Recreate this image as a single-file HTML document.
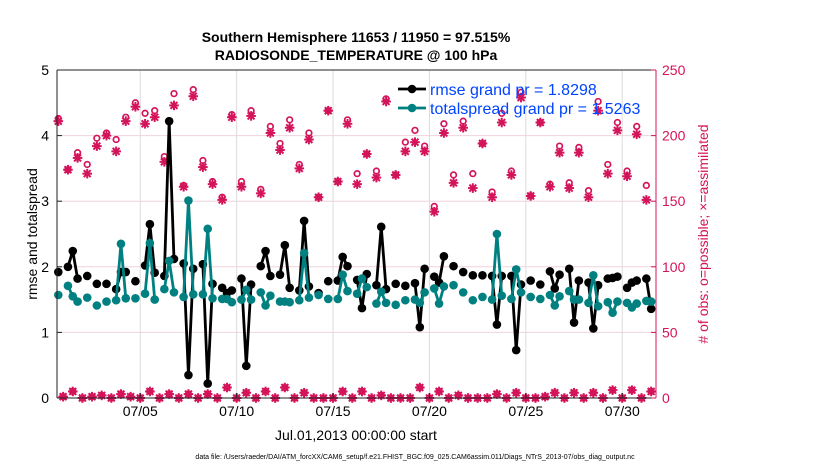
<!DOCTYPE html>
<html><head><meta charset="utf-8"><style>
html,body{margin:0;padding:0;background:#fff;}
svg{display:block;font-family:"Liberation Sans",Arial,sans-serif;}
</style></head><body>
<svg id="chart" width="830" height="470" viewBox="0 0 830 470" xmlns="http://www.w3.org/2000/svg">
<rect width="830" height="470" fill="#fff"/>
<g id="grid"></g>
<g id="marks"></g>
<g id="axes"></g>
<text x="356" y="42" text-anchor="middle" font-size="14" font-weight="bold">Southern Hemisphere 11653 / 11950 = 97.515%</text>
<text x="356" y="60" text-anchor="middle" font-size="14" font-weight="bold">RADIOSONDE_TEMPERATURE @ 100 hPa</text>
<text transform="translate(37,234) rotate(-90)" text-anchor="middle" font-size="14">rmse and totalspread</text>
<text transform="translate(708,234) rotate(-90)" text-anchor="middle" font-size="14" fill="#d4145a"># of obs: o=possible; ×=assimilated</text>
<text x="356" y="440" text-anchor="middle" font-size="14">Jul.01,2013 00:00:00 start</text>
<text x="415" y="459" text-anchor="middle" font-size="7">data file: /Users/raeder/DAI/ATM_forcXX/CAM6_setup/f.e21.FHIST_BGC.f09_025.CAM6assim.011/Diags_NTrS_2013-07/obs_diag_output.nc</text>
<g id="legend"></g>
</svg>
<script>
// slot k = 6-hourly index, day = (k-1)/4 since 07/01 00Z
const rmseSlots = [0,2,3,4,6,8,10,12,13,14,16,18,19,20,22,23,24,26,27,28,30,31,32,34,35,36,38,39,40,42,43,44,46,47,48,50,51,52,54,56,58,59,60,62,63,64,66,67,68,70,72,74,75,76,78,79,80,82,84,86,88,90,91,92,94,95,96,98,100,102,103,104,106,107,108,110,111,112,114,115,116,118,119,120,122,123];
const rmseValues = [1.92,2.00,2.24,1.82,1.86,1.74,1.74,1.66,1.92,1.92,1.78,2.02,2.65,1.91,1.86,4.22,2.12,2.05,0.35,1.97,2.04,0.22,1.74,1.68,1.60,1.64,1.82,0.49,1.73,2.01,2.24,1.86,1.88,2.33,1.68,1.64,2.70,1.70,1.60,1.78,1.79,2.15,2.01,1.80,1.37,1.89,1.72,2.61,1.66,1.74,1.71,1.75,1.08,1.97,1.85,1.76,2.16,2.01,1.92,1.87,1.87,1.86,1.12,1.86,1.86,0.73,1.73,1.79,1.73,1.93,1.67,1.88,1.97,1.15,1.79,1.76,1.06,1.72,1.82,1.83,1.85,1.68,1.76,1.79,1.82,1.36];
const spreadSlots = [0,2,3,4,6,8,10,12,13,14,16,18,19,20,22,23,24,26,27,28,30,31,32,34,35,36,38,39,40,42,43,44,46,47,48,50,51,52,54,56,58,59,60,62,63,64,66,67,68,70,72,74,75,76,78,79,80,82,84,86,88,90,91,92,94,95,96,98,100,102,103,104,106,107,108,110,111,112,114,115,116,118,119,120,122,123];
const spreadValues = [1.57,1.71,1.55,1.47,1.53,1.41,1.47,1.49,2.35,1.52,1.52,1.59,2.36,1.50,1.66,2.09,1.61,1.54,3.01,1.58,1.58,2.58,1.52,1.51,1.51,1.46,1.50,1.65,1.50,1.61,1.41,1.56,1.47,1.47,1.46,1.49,2.21,1.53,1.57,1.51,1.51,1.88,1.63,1.59,1.82,1.69,1.44,1.62,1.45,1.42,1.49,1.50,1.45,1.61,1.67,1.44,1.70,1.72,1.61,1.49,1.54,1.50,2.50,1.56,1.51,1.96,1.61,1.54,1.51,1.57,1.41,1.55,1.63,1.50,1.50,1.45,1.87,1.40,1.46,1.30,1.47,1.45,1.38,1.44,1.48,1.47];
const mainSlots = [0,2,4,6,8,10,12,14,16,18,20,22,24,26,28,30,32,34,36,38,40,42,44,46,48,50,52,54,56,58,60,62,64,66,68,70,72,74,76,78,80,82,84,86,88,90,92,94,96,98,100,102,104,106,108,110,112,114,116,118,120,122];
const possibleMain = [213,174,187,178,198,202,197,214,225,217,219,184,232,162,235,181,165,153,216,165,219,159,207,194,212,178,202,153,219,165,212,171,186,173,228,170,195,204,192,146,209,170,211,171,194,157,217,173,233,154,210,163,192,164,191,158,226,178,210,173,207,162];
const assimMain = [211,174,183,171,192,200,188,211,222,209,214,180,223,161,230,176,163,151,214,161,215,156,202,189,206,175,197,153,219,165,209,163,186,168,226,170,188,195,188,142,202,164,206,160,194,153,210,170,229,154,210,161,187,160,187,153,219,171,204,169,201,151];
const offSlots = [1,3,5,7,9,11,13,15,17,19,21,23,25,27,29,31,33,35,37,39,41,43,45,47,49,51,53,55,57,59,61,63,65,67,69,71,73,75,77,79,81,83,85,87,89,91,93,95,97,99,101,103,105,107,109,111,113,115,117,119,121,123];
const offCounts = [1,5,0,1,2,0,3,1,0,5,0,3,0,3,0,3,0,8,0,4,0,5,0,8,0,4,0,0,0,5,0,5,0,2,0,0,0,8,0,5,0,2,0,0,0,3,0,4,0,0,1,4,0,4,0,4,0,6,0,6,0,5];
const xTickDays = [4,9,14,19,24,29];
const xTickLabels = ["07/05","07/10","07/15","07/20","07/25","07/30"];
const yTicks = [0,1,2,3,4,5];
const y2Ticks = [0,50,100,150,200,250];

const L=57,R=656,T=70,B=398;
const NS="http://www.w3.org/2000/svg";
const X = d => 58.3 + (d+0.25)*19.28;
const slotX = k => X((k-1)/4);
const Y = v => B - v*(B-T)/5;
const Y2 = c => B - c*(B-T)/250;
const MAG="#d4145a", TEAL="#008080";
function el(tag, attrs, parent){const e=document.createElementNS(NS,tag);for(const a in attrs)e.setAttribute(a,attrs[a]);parent.appendChild(e);return e;}
const grid=document.getElementById('grid'), marks=document.getElementById('marks'), axes=document.getElementById('axes'), legend=document.getElementById('legend');

yTicks.forEach(v=>{ if(v>0&&v<5){const g=el('line',{x1:L,x2:R,y1:Y(v),y2:Y(v),stroke:'#f0d2dc','stroke-width':1},grid);

}});
xTickDays.forEach(d=>{const g=el('line',{x1:X(d),x2:X(d),y1:T,y2:B,stroke:'#dcdcdc','stroke-width':1},grid);

});

function drawSeries(slots, vals, color, name){
  let seg=[];
  const flush=()=>{ if(seg.length>1){const p=el('polyline',{points:seg.join(' '),fill:'none',stroke:color,'stroke-width':2.8},marks);
    
    } seg=[]; };
  slots.forEach((k,i)=>{ if(i>0 && k-slots[i-1]>1) flush(); seg.push(slotX(k)+','+Y(vals[i])); });
  flush();
  slots.forEach((k,i)=>{const c=el('circle',{cx:slotX(k),cy:Y(vals[i]),r:4.3,fill:color},marks);
    
    });
}
function star(x,y,name){
  const g=el('g',{stroke:MAG,'stroke-width':2},marks);
  
  
  const s=4.8;
  el('line',{x1:x-s,x2:x+s,y1:y,y2:y},g);el('line',{x1:x,x2:x,y1:y-s,y2:y+s},g);
  el('line',{x1:x-s*.72,x2:x+s*.72,y1:y-s*.72,y2:y+s*.72},g);el('line',{x1:x-s*.72,x2:x+s*.72,y1:y+s*.72,y2:y-s*.72},g);
}
mainSlots.forEach((k,i)=>{
  const c=el('circle',{cx:slotX(k),cy:Y2(possibleMain[i]),r:2.8,fill:'none',stroke:MAG,'stroke-width':1.7},marks);
  
  
  star(slotX(k),Y2(assimMain[i]),'obs-assimilated-marker');
});
offSlots.forEach((k,i)=>{
  const c=el('circle',{cx:slotX(k),cy:Y2(offCounts[i]),r:2.8,fill:MAG,stroke:MAG,'stroke-width':1.7},marks);
  
  
  star(slotX(k),Y2(offCounts[i]),'obs-assimilated-marker');
});
drawSeries(rmseSlots, rmseValues, '#000', 'rmse');
drawSeries(spreadSlots, spreadValues, TEAL, 'totalspread');

// axes
let a;
a=el('line',{x1:L,x2:R,y1:T,y2:T,stroke:'#222','stroke-width':1},axes);

a=el('line',{x1:L,x2:R,y1:B,y2:B,stroke:'#222','stroke-width':1},axes);

a=el('line',{x1:L,x2:L,y1:T,y2:B,stroke:'#222','stroke-width':1},axes);

a=el('line',{x1:R,x2:R,y1:T,y2:B,stroke:MAG,'stroke-width':1},axes);

yTicks.forEach(v=>{
  el('line',{x1:L,x2:L+5,y1:Y(v),y2:Y(v),stroke:'#222'},axes);
  const t=el('text',{x:L-8,y:Y(v)+5,'text-anchor':'end','font-size':14},axes);t.textContent=v;
  
  
});
y2Ticks.forEach(c=>{
  el('line',{x1:R-5,x2:R,y1:Y2(c),y2:Y2(c),stroke:MAG},axes);
  const t=el('text',{x:R+6,y:Y2(c)+5,'font-size':14,fill:MAG},axes);t.textContent=c;
  
  
});
xTickDays.forEach((d,i)=>{
  el('line',{x1:X(d),x2:X(d),y1:B-5,y2:B,stroke:'#222'},axes);
  const t=el('text',{x:X(d),y:B+18,'text-anchor':'middle','font-size':14},axes);t.textContent=xTickLabels[i];
  
  
});
// legend
[['#000','rmse grand pr = 1.8298',89,'legend-entry-rmse'],[TEAL,'totalspread grand pr = 1.5263',108,'legend-entry-totalspread']].forEach(([c,txt,y,nm])=>{
  const g=el('g',{},legend);
  
  
  el('line',{x1:398,x2:426,y1:y,y2:y,stroke:c,'stroke-width':2.8},g);
  el('circle',{cx:412,cy:y,r:4.3,fill:c},g);
  const t=el('text',{x:430,y:y+6,'font-size':16,fill:'#0044ff'},g);t.textContent=txt;
});
</script>
</body></html>
